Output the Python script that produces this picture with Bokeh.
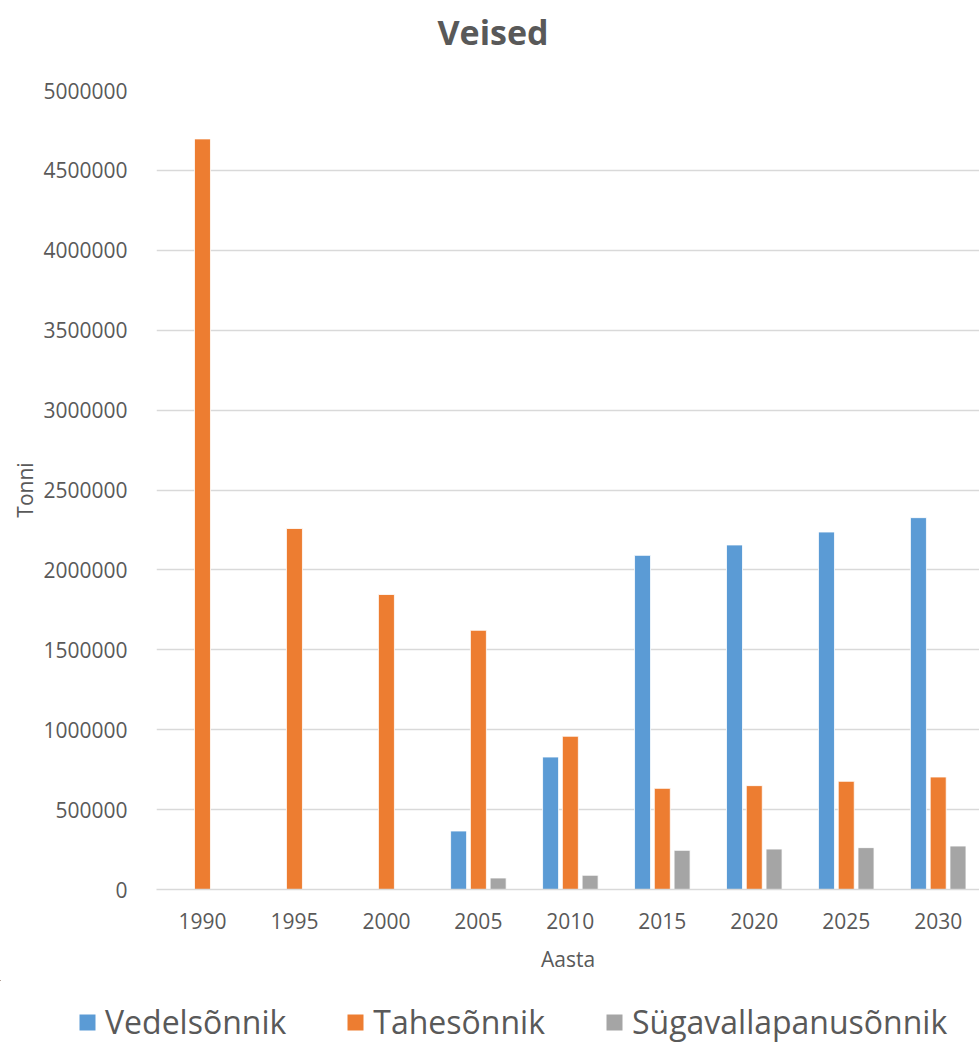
from bokeh.plotting import figure
from bokeh.layouts import column, row
from bokeh.models import (ColumnDataSource, Legend, LegendItem, FixedTicker, Range1d,
                          NumeralTickFormatter, Label)
from bokeh.embed import file_html
from bokeh.resources import INLINE

years = ["1990", "1995", "2000", "2005", "2010", "2015", "2020", "2025", "2030"]
vedelsonnik = [0, 0, 0, 366000, 829000, 2091000, 2156000, 2237000, 2327000]
tahesonnik = [4697000, 2259000, 1846000, 1622000, 959000, 633000, 650000, 677000, 704000]
sugavalla = [0, 0, 0, 72000, 89000, 245000, 253000, 262000, 272000]
series_names = ["Vedelsõnnik", "Tahesõnnik", "Sügavallapanusõnnik"]
colors = ["#5B9BD5", "#ED7D31", "#A5A5A5"]
y_ticks = [0, 500000, 1000000, 1500000, 2000000, 2500000, 3000000, 3500000, 4000000, 4500000, 5000000]
title_text = "Veised"

FONT = "Open Sans"
TXT = "#595959"
W = 979

idx = list(range(len(years)))
sources = []
offsets = [-0.215, 0.0, 0.215]
for vals, off in zip([vedelsonnik, tahesonnik, sugavalla], offsets):
    sources.append(ColumnDataSource(dict(x=[i + off for i in idx], top=vals)))

# ---- title strip ----
tfig = figure(width=W, height=70, output_backend="svg", toolbar_location=None,
              x_range=Range1d(0, W), y_range=Range1d(0, 70),
              min_border=0, x_axis_type=None, y_axis_type=None)
tfig.outline_line_color = None
tfig.xgrid.visible = False
tfig.ygrid.visible = False
tfig.add_layout(Label(x=492.5, y=39, text=title_text, text_align="center", text_baseline="middle",
                      text_font=FONT, text_font_size="34px", text_font_style="bold",
                      text_color=TXT))

# ---- main chart ----
p = figure(width=W, height=910, output_backend="svg", toolbar_location=None,
           x_range=Range1d(-0.5, 8.449), y_range=Range1d(0, 5000000),
           min_border_left=156, min_border_right=0, min_border_top=20, min_border_bottom=91)
p.outline_line_color = None
p.background_fill_color = "white"
p.border_fill_color = "white"

for src, col in zip(sources, colors):
    p.vbar(x="x", top="top", width=0.174, source=src, fill_color=col,
           line_color="white", line_width=0.8)

p.xaxis.ticker = FixedTicker(ticks=idx)
p.xaxis.major_label_overrides = {i: y for i, y in enumerate(years)}
p.yaxis.ticker = FixedTicker(ticks=y_ticks)
p.yaxis.formatter = NumeralTickFormatter(format="0")
for ax in (p.xaxis[0], p.yaxis[0]):
    ax.major_tick_line_color = None
    ax.minor_tick_line_color = None
    ax.major_label_text_font = FONT
    ax.major_label_text_font_size = "21px"
    ax.major_label_text_color = TXT
    ax.axis_label_text_font = FONT
    ax.axis_label_text_font_size = "21px"
    ax.axis_label_text_color = TXT
    ax.axis_label_text_font_style = "normal"
p.xaxis.axis_label = "Aasta"
p.yaxis.axis_label = "Tonni"
p.xaxis.axis_line_color = "#D9D9D9"
p.xaxis.axis_line_width = 1.3
p.yaxis.axis_line_color = None
p.xaxis.major_label_standoff = 17
p.xaxis.axis_label_standoff = 13
p.yaxis.major_label_standoff = 23
p.yaxis.axis_label_standoff = 1

p.xgrid.grid_line_color = None
p.ygrid.grid_line_color = "#D9D9D9"
p.ygrid.grid_line_width = 1.3

# ---- legend strip (its glyph renderers lie outside its own view) ----
leg = figure(width=W, height=63, output_backend="svg", toolbar_location=None,
             x_range=Range1d(40, 41), y_range=Range1d(-20, -10),
             min_border=0, x_axis_type=None, y_axis_type=None)
leg.outline_line_color = None
leg.xgrid.visible = False
leg.ygrid.visible = False
leg_renderers = []
for src, col in zip(sources, colors):
    r = leg.vbar(x="x", top="top", width=0.174, source=src, fill_color=col, line_color=None)
    leg_renderers.append(r)

legend = Legend(items=[LegendItem(label=n, renderers=[r]) for n, r in zip(series_names, leg_renderers)],
                orientation="horizontal", location=(77, 0))
legend.label_text_font = FONT
legend.label_text_font_size = "32px"
legend.label_text_color = TXT
legend.glyph_width = 20
legend.glyph_height = 20
legend.label_standoff = 8
legend.spacing = 59
legend.padding = 0
legend.margin = 0
legend.border_line_color = None
legend.background_fill_alpha = 0
leg.add_layout(legend, "center")

layout = column(row(tfig), p, row(leg), spacing=0)
open("out.html", "w").write(file_html(layout, INLINE))
